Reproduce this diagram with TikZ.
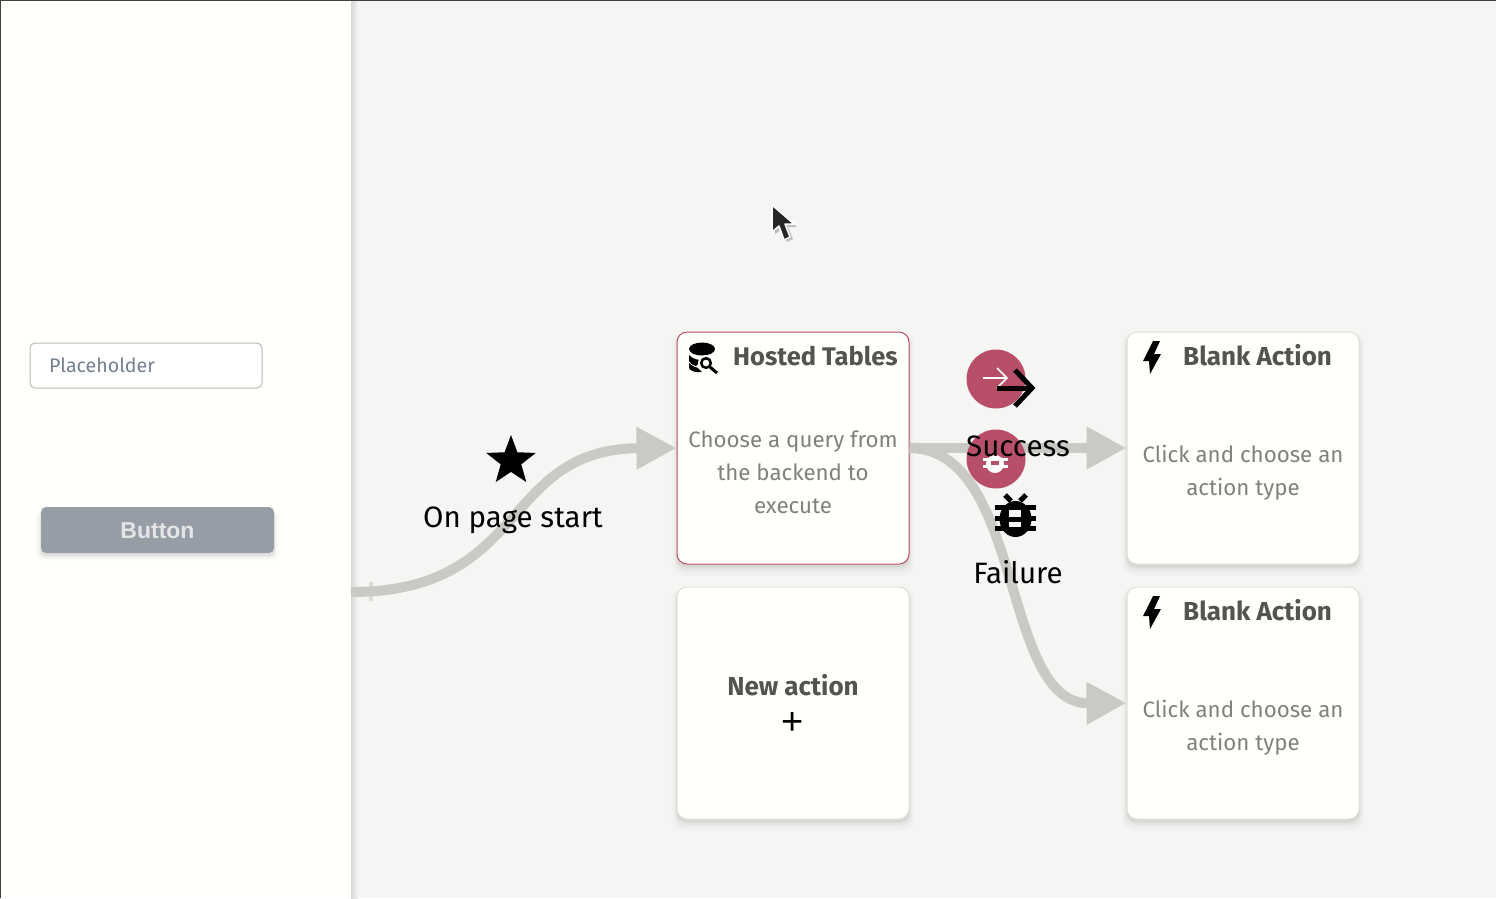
\documentclass[tikz,border=0pt]{standalone}
\usepackage{fontspec}
\setmainfont{Fira Sans}
\newfontfamily\btnfont{Liberation Sans}
\usetikzlibrary{arrows.meta,shapes.geometric,shadows}
\definecolor{pagebg}{HTML}{F5F6F3}
\definecolor{cardbg}{HTML}{FFFFFC}
\definecolor{rosered}{HTML}{B84F69}
\definecolor{flowgray}{HTML}{C9CAC5}
\definecolor{cardline}{HTML}{DFDFDB}
\definecolor{headtext}{HTML}{53534F}
\definecolor{bodytext}{HTML}{81817C}
\definecolor{slatetext}{HTML}{74808F}
\definecolor{buttonfill}{HTML}{969DA7}
\definecolor{inputline}{HTML}{B9BAB5}
\tikzset{
    softshadow/.style={
        general shadow={shadow xshift=0pt, shadow yshift=-3pt, shadow scale=1.005, opacity=0.05, fill=black},
        general shadow={shadow xshift=0pt, shadow yshift=-4pt, shadow scale=1.015, opacity=0.03, fill=black},
        general shadow={shadow xshift=0pt, shadow yshift=-5pt, shadow scale=1.03, opacity=0.02, fill=black},
        general shadow={shadow xshift=0pt, shadow yshift=-6pt, shadow scale=1.045, opacity=0.015, fill=black}},
    card/.style={draw=cardline, fill=cardbg, rounded corners=10pt, minimum width=232pt, minimum height=232pt,
        inner sep=0pt, line width=1pt, softshadow},
    cardhead/.style={font=\fontsize{26}{30}\selectfont\bfseries, text=headtext, anchor=base west, inner sep=0pt},
    cardbody/.style={font=\fontsize{22.3}{32.8}\selectfont, text=bodytext, align=center, inner sep=0pt},
    flow/.style={draw=flowgray, line width=10pt, -{Triangle[length=40pt,width=40pt]}},
    triglabel/.style={font=\fontsize{29.5}{34}\selectfont, text=black, inner sep=0pt},
    redcircle/.style={circle, fill=rosered, minimum size=59pt, inner sep=0pt},
}
\begin{document}
\begin{tikzpicture}[x=1pt, y=-1pt]
    \useasboundingbox (0,0) rectangle (1496,898);
    % background and sidebar
    \fill[pagebg] (0,0) rectangle (1496,898);
    \shade[left color=black!12!pagebg, right color=pagebg] (351,0) rectangle (358,898);
    \fill[cardbg] (0,0) rectangle (351,898);
    \draw[black!75, line width=1pt] (0.5,898) -- (0.5,0.5) -- (1496,0.5);

    % sidebar widgets
    \node[draw=inputline, fill=white, line width=1pt, rounded corners=5pt, minimum width=232pt, minimum height=45pt, inner sep=0pt] (inputbox) at (146,365.5) {};
    \node[anchor=west, inner sep=0pt, font=\fontsize{19.6}{24}\selectfont, text=slatetext] (placeholder) at (49,365) {Placeholder};
    \node[fill=buttonfill, rounded corners=5pt, minimum width=233pt, minimum height=46pt, inner sep=0pt, softshadow] (button) at (157.5,530) {};
    \node[text=white!90!black, font=\btnfont\fontsize{23}{28}\selectfont\bfseries, inner sep=0pt] (buttonlabel) at (157.5,531) {Button};

    % cards
    \node[card, draw=rosered] (hosted) at (793,448) {};
    \node[card] (newaction) at (793,703) {};
    \node[card] (blanktop) at (1243,448) {};
    \node[card] (blankbottom) at (1243,703) {};

    % connectors
    \coordinate (sidebarexit) at (351,592);
    \fill[flowgray!60!pagebg] (369,582) rectangle (373,601);
    \draw[flow] (sidebarexit) .. controls (530,592) and (500,449) .. (hosted.west);
    \draw[flow] (hosted.east) -- (blanktop.west);
    \draw[flow] (hosted.east) .. controls (1025,449) and (1000,704) .. (blankbottom.west);

    % card texts
    \node[cardhead, font=\fontsize{25.5}{30}\selectfont\bfseries] (hostedhead) at (733,365) {Hosted Tables};
    \node[cardbody] (hostedbody) at (793,472) {Choose a query from\\the backend to\\execute};
    \node[font=\fontsize{26}{28}\selectfont\bfseries, text=headtext, inner sep=0pt] (newhead) at (793,685) {New action};
    \node[font=\btnfont\fontsize{38}{38}\selectfont, text=black, inner sep=0pt] (newplus) at (793,724) {+};
    \node[cardhead] (blanktophead) at (1183,365) {Blank Action};
    \node[cardbody] (blanktopbody) at (1243,473) {Click and choose an\\action type};
    \node[cardhead] (blankbottomhead) at (1183,620) {Blank Action};
    \node[cardbody] (blankbottombody) at (1243,727.5) {Click and choose an\\action type};

    % bolts
    \foreach \y in {341,596} {
        \fill[black] (1153,\y) -- (1143,\y+20) -- (1149,\y+20) -- (1150,\y+33) -- (1161,\y+13) -- (1154,\y+13) -- (1160,\y) -- cycle;
    }

    % database icon of the query card
    \fill[black] (702,349) ellipse (13pt and 6.5pt);
    \fill[black] (689,355) .. controls (693,359) and (697,360) .. (702,360) -- (696,366) .. controls (693,365) and (690,364) .. (689,361) -- cycle;
    \fill[black] (689,363) .. controls (692,366) and (695,367) .. (698,368) -- (702,372) .. controls (696,373) and (690,371) .. (689,368) -- cycle;
    \fill[cardbg] (706,363) circle (8pt);
    \draw[black, line width=2.5pt] (706,363) circle (4.8pt);
    \draw[black, line width=3pt] (710,367) -- (717,373);

    % red badges
    \node[redcircle] (successbadge) at (996,379) {};
    \node[redcircle] (failurebadge) at (996,459) {};
    \draw[white, line width=1.5pt] (983,378) -- (1007,378);
    \draw[white, line width=1.5pt] (997,368) -- (1007,378) -- (997,388);
    \fill[white] (995,464) ellipse (9pt and 9pt);
    \fill[white] (983,458) rectangle (1008,461);
    \fill[white] (983,465) rectangle (1008,468);
    \fill[rosered] (991,461) rectangle (999,465);

    % trigger icons and labels
    \node[star, star points=5, star point ratio=2.4, fill=black, minimum size=52pt, inner sep=0pt] (startstar) at (511,461) {};
    \node[triglabel] (startlabel) at (513,520) {On page start};
    \draw[black, line width=5pt] (997,388) -- (1030,388);
    \draw[black, line width=5pt, line join=miter] (1015,370) -- (1032,388) -- (1015,406);
    \node[triglabel] (successlabel) at (1018,446) {Success};
    \fill[black] (1015.5,519) ellipse (16pt and 18pt);
    \draw[black, line width=5pt] (1005,495) -- (1011,501) (1026,495) -- (1020,501);
    \fill[black] (995,505) rectangle (1036,510);
    \fill[black] (995,516) rectangle (1036,521);
    \fill[black] (995,526) rectangle (1036,531);
    \fill[pagebg] (1009,510) rectangle (1021,517);
    \fill[pagebg] (1009,522) rectangle (1021,527);
    \node[triglabel] (failurelabel) at (1018,572) {Failure};

    % mouse pointer
    \fill[black!25] (775,207) -- (775,234) -- (782,229) -- (787,242) -- (793,239) -- (788,227) -- (797,227) -- cycle;
    \draw[white, fill=black!85, line width=1.5pt, line join=round] (772,205) -- (772,232) -- (779,226) -- (784,240) -- (790,237) -- (785,224) -- (794,224) -- cycle;
\end{tikzpicture}
\end{document}
